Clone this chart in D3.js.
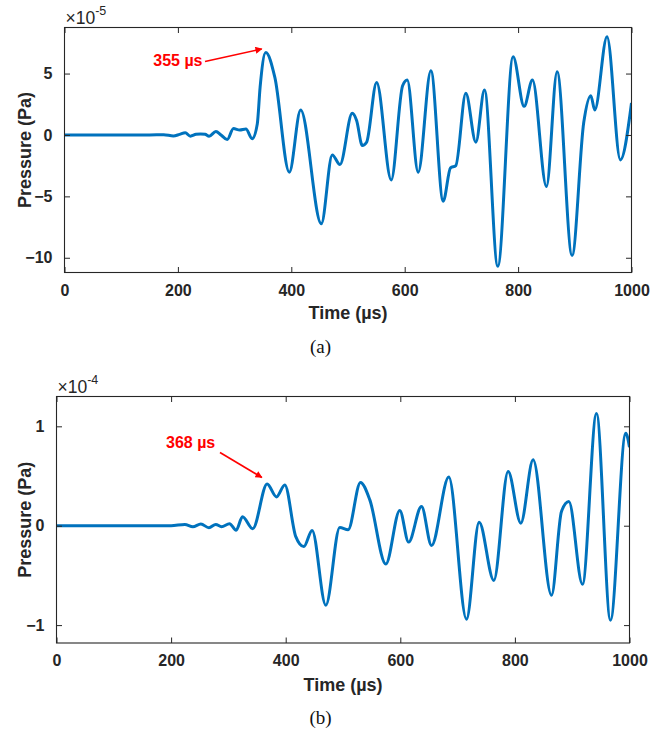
<!DOCTYPE html>
<html>
<head>
<meta charset="utf-8">
<script src="https://cdn.jsdelivr.net/npm/d3@7"></script>
<style>
  html, body { margin: 0; padding: 0; background: #fff; }
  svg { display: block; }
</style>
</head>
<body>
<svg id="chart" width="667" height="731"></svg>
<script>
// ---------- DATA ----------
// (a) time (µs) and pressure (×1e-5 Pa)
const timeA = [0,150,175,192,203,213,222,232,240,248,255,267,276,287,298,309,320,331,340,345,355,371,396.5,416.5,452.9,472.3,485.8,507.5,515.2,525.2,532.8,550.5,576.2,596.3,604.4,623.8,646.2,667.9,680.8,690.2,707.8,725.5,740.7,764.2,791.2,810.6,825.3,850,868.8,895.2,915.8,928.2,935.2,956.8,980.4,1000];
const pressA = [0,0,0.02,-0.08,0.05,0.18,-0.1,0.05,0.08,0.05,-0.1,0.28,0.0,-0.38,0.52,0.4,0.48,-0.3,0.9,3.9,6.72,4.69,-3.03,2.03,-7.23,-1.63,-2.41,1.76,1.17,-0.86,-0.59,4.28,-3.66,4.01,4.47,-3.03,5.23,-5.39,-2.68,-2.49,3.39,-0.59,3.66,-10.7,6.37,2.33,4.47,-4.2,5.15,-9.81,1.03,3.2,2.03,8.0,-2.03,2.6];
// (b) time (µs) and pressure (×1e-4 Pa)
const timeB = [0,200,224,238,252,266,278,288,302,313.5,324.6,342.5,367.6,383.9,398.4,417.6,431.6,446.1,470,494.4,508.9,530.5,546.8,574.7,599.1,614.5,637,654.5,684.6,715.5,737.6,763.2,788.2,810.3,831.8,863.9,881.3,894.1,917.9,942.4,966.8,993.5,1000];
const pressB = [0,0,0.013,-0.01,0.017,-0.02,0.013,-0.01,0.02,-0.045,0.09,-0.03,0.42,0.29,0.41,-0.11,-0.21,-0.047,-0.8,-0.017,-0.04,0.435,0.26,-0.386,0.154,-0.165,0.194,-0.2,0.489,-0.94,0.036,-0.55,0.546,0.026,0.663,-0.70,0.144,0.244,-0.59,1.13,-0.95,0.93,0.79];

const xTicks = [0,200,400,600,800,1000];
const yTicksA = [-10,-5,0,5];
const yTicksB = [-1,0,1];
const yDomainA = [-11.2, 8.75];
const yDomainB = [-1.18, 1.3];
const exponentA = "-5";
const exponentB = "-4";
const peakA = {t: 355, label: "355 µs"};
const peakB = {t: 368, label: "368 µs"};
const xLabel = "Time (µs)";
const yLabel = "Pressure (Pa)";

// ---------- DRAW ----------
const svg = d3.select("#chart");
const AX = "#262626";
const LINE = "#0072BD";
const FONT = "'Liberation Sans', Arial, Helvetica, sans-serif";

const defs = svg.append("defs");
defs.append("marker").attr("id","arrowRed")
  .attr("viewBox","0 0 10 10").attr("refX",9).attr("refY",5)
  .attr("markerWidth",8).attr("markerHeight",7).attr("markerUnits","userSpaceOnUse")
  .attr("orient","auto")
  .append("path").attr("d","M0,0 L10,5 L0,10 z").attr("fill","#ff0000");

function panel(cfg) {
  const {id, L, R, T, B, xs, ys, yDomain, yTicks, exponent, peak, sub, subY, labelY, arrow} = cfg;
  const x = d3.scaleLinear().domain([0,1000]).range([L,R]);
  const y = d3.scaleLinear().domain(yDomain).range([B,T]);
  const g = svg.append("g");

  defs.append("clipPath").attr("id","clip"+id)
    .append("rect").attr("x",L).attr("y",T).attr("width",R-L).attr("height",B-T);

  // data line
  const data = xs.map((t,i)=>[t, ys[i]]);
  g.append("path").datum(data)
    .attr("clip-path","url(#clip"+id+")")
    .attr("fill","none").attr("stroke",LINE).attr("stroke-width",3)
    .attr("stroke-linejoin","round")
    .attr("d", d3.line().x(d=>x(d[0])).y(d=>y(d[1])).curve(d3.curveMonotoneX));

  const tickLen = 5.5;
  const axB = g.append("g").attr("transform",`translate(0,${B})`)
    .call(d3.axisBottom(x).tickValues(xTicks).tickSize(-tickLen).tickPadding(12).tickFormat(d3.format("d")));
  const axT = g.append("g").attr("transform",`translate(0,${T})`)
    .call(d3.axisTop(x).tickValues(xTicks).tickSize(-tickLen).tickFormat(""));
  const axL = g.append("g").attr("transform",`translate(${L},0)`)
    .call(d3.axisLeft(y).tickValues(yTicks).tickSize(-tickLen).tickPadding(12).tickFormat(d3.format("d")));
  const axR = g.append("g").attr("transform",`translate(${R},0)`)
    .call(d3.axisRight(y).tickValues(yTicks).tickSize(-tickLen).tickFormat(""));
  [axB,axT,axL,axR].forEach(a=>{
    a.select(".domain").remove();
    a.selectAll("line").attr("stroke",AX).attr("stroke-width",1);
    a.selectAll("text").attr("fill",AX).style("font-family",FONT)
      .style("font-size","16px").style("font-weight","bold");
  });
  axB.selectAll("text").attr("dy","0.71em");
  g.append("rect").attr("x",L).attr("y",T).attr("width",R-L).attr("height",B-T)
    .attr("fill","none").attr("stroke",AX).attr("stroke-width",1.1);

  // exponent
  const ex = g.append("text").attr("x",L+1).attr("y",T-4)
    .attr("fill",AX).style("font-family",FONT).style("font-size","17.5px");
  ex.append("tspan").text("×10");
  ex.append("tspan").attr("dy",-9).style("font-size","12.5px").text(exponent);

  // axis labels
  g.append("text").attr("x",(L+R)/2).attr("y",labelY).attr("text-anchor","middle")
    .attr("fill",AX).style("font-family",FONT).style("font-size","18px").style("font-weight","bold")
    .text(xLabel);
  g.append("text").attr("transform",`translate(31,${(T+B)/2}) rotate(-90)`)
    .attr("text-anchor","middle")
    .attr("fill",AX).style("font-family",FONT).style("font-size","18px").style("font-weight","bold")
    .text(yLabel);

  // annotation
  g.append("text").attr("x",arrow.tx).attr("y",arrow.ty).attr("text-anchor",arrow.anchor)
    .attr("fill","#ff0000").style("font-family",FONT).style("font-size","16px").style("font-weight","bold")
    .text(peak.label);
  let ni = 0;
  xs.forEach((t,i)=>{ if (Math.abs(t-peak.t) < Math.abs(xs[ni]-peak.t)) ni = i; });
  const pv = ys[ni];
  g.append("line")
    .attr("x1",arrow.x1).attr("y1",arrow.y1)
    .attr("x2",x(peak.t) + arrow.dx).attr("y2",y(pv) + arrow.dy)
    .attr("stroke","#ff0000").attr("stroke-width",1.6)
    .attr("marker-end","url(#arrowRed)");

  // sub caption
  g.append("text").attr("x",320.5).attr("y",subY).attr("text-anchor","middle")
    .attr("fill","#111").style("font-family","'Liberation Serif','Times New Roman',serif")
    .style("font-size","19px").text(sub);
}

panel({id:"a", L:64.5, R:631.5, T:27.5, B:272.5, xs:timeA, ys:pressA,
  yDomain:yDomainA, yTicks:yTicksA, exponent:exponentA, peak:peakA,
  sub:"(a)", subY:353, labelY:319,
  arrow:{tx:202.5, ty:65.5, anchor:"end", x1:205, y1:61.5, dx:-4, dy:-3.5}});

panel({id:"b", L:56.5, R:629.5, T:396.5, B:643, xs:timeB, ys:pressB,
  yDomain:yDomainB, yTicks:yTicksB, exponent:exponentB, peak:peakB,
  sub:"(b)", subY:724, labelY:691,
  arrow:{tx:166, ty:447.5, anchor:"start", x1:220, y1:452.5, dx:-5.5, dy:-6.5}});
</script>
</body>
</html>
